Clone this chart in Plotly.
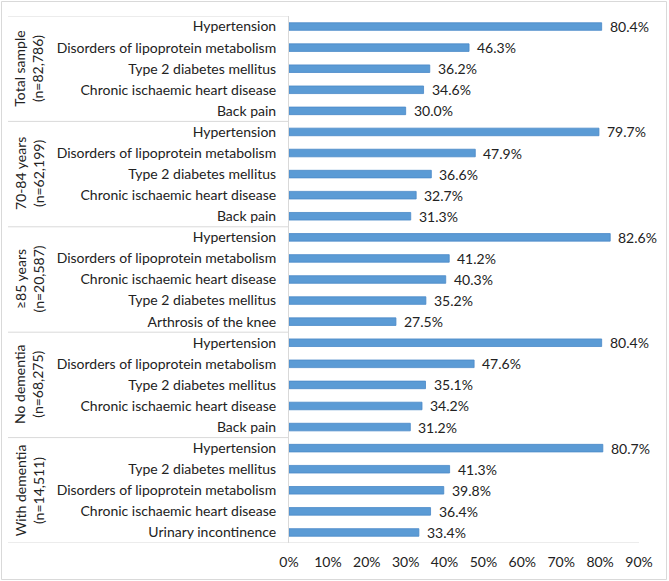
import plotly.graph_objects as go

groups = ["Total sample<br>(n=82,786)", "70-84 years<br>(n=62,199)", "≥85 years<br>(n=20,587)",
          "No dementia<br>(n=68,275)", "With dementia<br>(n=14,511)"]

conditions = [
    ["Hypertension", "Disorders of lipoprotein metabolism", "Type 2 diabetes mellitus",
     "Chronic ischaemic heart disease", "Back pain"],
    ["Hypertension", "Disorders of lipoprotein metabolism", "Type 2 diabetes mellitus",
     "Chronic ischaemic heart disease", "Back pain"],
    ["Hypertension", "Disorders of lipoprotein metabolism", "Chronic ischaemic heart disease",
     "Type 2 diabetes mellitus", "Arthrosis of the knee"],
    ["Hypertension", "Disorders of lipoprotein metabolism", "Type 2 diabetes mellitus",
     "Chronic ischaemic heart disease", "Back pain"],
    ["Hypertension", "Type 2 diabetes mellitus", "Disorders of lipoprotein metabolism",
     "Chronic ischaemic heart disease", "Urinary incontinence"],
]

values = [
    [80.4, 46.3, 36.2, 34.6, 30.0],
    [79.7, 47.9, 36.6, 32.7, 31.3],
    [82.6, 41.2, 40.3, 35.2, 27.5],
    [80.4, 47.6, 35.1, 34.2, 31.2],
    [80.7, 41.3, 39.8, 36.4, 33.4],
]

x_ticks = [0, 10, 20, 30, 40, 50, 60, 70, 80, 90]

labels = [c for g in conditions for c in g]
vals = [v / 100 for g in values for v in g]
pos = list(range(len(labels)))

FONT = "Lato"
FS = 14
GRAY = "#D9D9D9"
TXT = "#222222"

fig = go.Figure(go.Bar(
    y=pos, x=vals, orientation="h",
    marker=dict(color="#5B9BD5", line=dict(color="#4A89C8", width=0.8)),
    cliponaxis=False, width=0.36,
))

W, H = 669, 581
L, R, T, B = 289, 30, 16, 38
pw = W - L - R
ph = H - T - B

def px_x(p):
    return (p - L) / pw

def px_y(p):
    return 1 - (p - T) / ph

n = len(labels)
shapes = []
per = len(conditions[0])
for k in range(len(groups)):
    yb = k * per - 0.5
    shapes.append(dict(type="line", xref="paper", yref="y", x0=px_x(8), x1=0, y0=yb, y1=yb,
                       line=dict(color=GRAY, width=1)))
shapes.append(dict(type="line", xref="paper", yref="y", x0=px_x(8), x1=1, y0=n - 0.5, y1=n - 0.5,
                   line=dict(color=GRAY, width=1)))
shapes.append(dict(type="rect", xref="paper", yref="paper", x0=px_x(1.5), x1=px_x(666.5),
                   y0=px_y(579.5), y1=px_y(1.5), line=dict(color=GRAY, width=1)))

annotations = []
for k, g in enumerate(groups):
    yc = k * per + (per - 1) / 2
    annotations.append(dict(xref="paper", yref="y", x=px_x(29), y=yc, text=g, textangle=-90,
                            showarrow=False, xanchor="center", yanchor="middle",
                            font=dict(family=FONT, size=FS, color=TXT)))
for p, v in zip(pos, vals):
    annotations.append(dict(xref="x", yref="y", x=v, y=p, text=f"{v*100:.1f}%",
                            showarrow=False, xanchor="left", yanchor="middle", xshift=6,
                            font=dict(family=FONT, size=FS, color=TXT)))

fig.update_layout(
    width=W, height=H, margin=dict(l=L, r=R, t=T, b=B),
    paper_bgcolor="white", plot_bgcolor="white",
    showlegend=False, shapes=shapes, annotations=annotations,
    font=dict(family=FONT, size=FS, color=TXT),
)
fig.update_xaxes(range=[0, 0.9], tickvals=[t / 100 for t in x_ticks],
                 ticktext=[f"{t}%" for t in x_ticks], showgrid=False, zeroline=False,
                 showline=False, ticks="outside", ticklen=6, tickcolor="rgba(0,0,0,0)",
                 automargin=False, tickfont=dict(family=FONT, size=FS, color=TXT))
fig.update_yaxes(range=[n - 0.5, -0.5], tickvals=pos, ticktext=labels, showgrid=False,
                 zeroline=False, showline=True, linecolor=GRAY, linewidth=1, ticks="",
                 automargin=False, ticklabelstandoff=9,
                 tickfont=dict(family=FONT, size=FS, color=TXT))

fig.write_html("out.html")
